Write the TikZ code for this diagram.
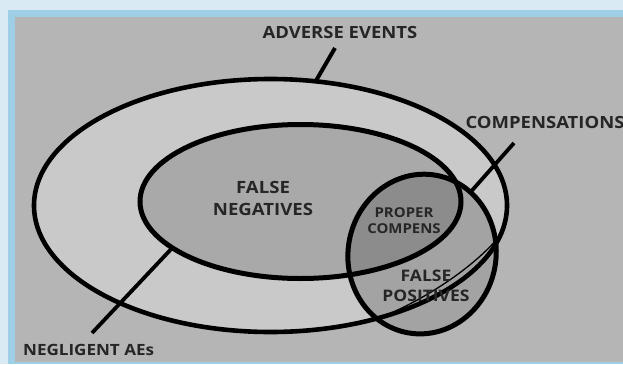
\documentclass[tikz,border=0pt]{standalone}
\usepackage{fontspec}
\setmainfont{Open Sans}[FakeStretch=1.1]
\usepackage{tikz}
\usetikzlibrary{calc}

\definecolor{paleblue}{HTML}{D9EAF4}
\definecolor{frameblue}{HTML}{9FCFE6}
\definecolor{backgray}{HTML}{B5B5B5}
\definecolor{aefill}{HTML}{C9C9C9}
\definecolor{fnfill}{HTML}{A9A9A9}
\definecolor{compfill}{HTML}{A3A3A3}
\definecolor{properfill}{HTML}{8C8C8C}
\definecolor{ink}{HTML}{262626}

\tikzset{
  setline/.style={draw=black, line width=5pt},
  pointer/.style={draw=black, line width=3.8pt},
  lbl/.style={text=ink, font=\bfseries\fontsize{16.8}{20}\selectfont, inner sep=0pt, align=center}
}

\begin{document}
\begin{tikzpicture}[x=1pt, y=1pt]
  % frame
  \fill[paleblue] (0,0) rectangle (623,-364);
  \fill[frameblue] (8,-10) rectangle (623,-364);
  \fill[backgray] (15,-17) rectangle (623,-362);
  \useasboundingbox (0,0) rectangle (623,-364);

  \coordinate(ae) at (270.5,-205.5);
  \coordinate(fn) at (300.5,-201.5);
  \coordinate(comp) at (422,-254);

  % sets
  \fill[aefill] (ae) ellipse [x radius=236.5, y radius=126.5];
  \fill[fnfill] (fn) ellipse [x radius=160.5, y radius=77];
  \fill[compfill, rotate around={-10:(comp)}] (comp) ellipse [x radius=74, y radius=80];
  \begin{scope}
    \clip (fn) ellipse [x radius=160.5, y radius=77];
    \fill[properfill, rotate around={-10:(comp)}] (comp) ellipse [x radius=74, y radius=80];
  \end{scope}
  \draw[setline, line width=4.6pt] (ae) ellipse [x radius=236.5, y radius=126.5];
  \draw[setline] (fn) ellipse [x radius=160.5, y radius=77];
  \draw[setline, rotate around={-10:(comp)}] (comp) ellipse [x radius=74, y radius=80];

  % pointers
  \coordinate(aetip) at (335,-48);
  \coordinate(aepin) at ($(ae)+(79:236.5 and 126.5)$);
  \coordinate(ngtip) at (92,-333);
  \coordinate(ngpin) at ($(fn)+(217:160.5 and 77)$);
  \coordinate(cptip) at (514,-143);
  \path[shift={(comp)}, rotate=-10] (60:74 and 80) coordinate(cppin);
  \coordinate(nga) at ($(ae)+(297.8:236.5 and 126.5)$);
  \coordinate(ngb) at ($(ae)+(346.5:236.5 and 126.5)$);
  \draw[pointer, line width=4pt] (aetip)--(aepin);
  \draw[pointer] (ngtip)--(ngpin);
  \draw[pointer] (cptip)--(cppin);
  \draw[line width=1.3pt] (nga) .. controls (431,-297) and (478,-263) .. (ngb);

  % labels
  \node[lbl] (adverse) at (340,-32.5) {ADVERSE EVENTS};
  \node[lbl] (comps) at (545,-122.5) {COMPENSATIONS};
  \node[lbl, anchor=west, font=\bfseries\fontsize{15.5}{20}\selectfont] (negligent) at (23,-350) {NEGLIGENT AEs};
  \node[lbl, font=\bfseries\fontsize{16.9}{21.5}\selectfont] (falseneg) at (263,-198.5) {FALSE\\NEGATIVES};
  \node[lbl, font=\bfseries\fontsize{13.6}{16}\selectfont] (proper) at (404,-220.5) {PROPER\\COMPENS};
  \node[lbl, font=\bfseries\fontsize{15.9}{20}\selectfont] (falsepos) at (426,-286) {FALSE\\POSITIVES};
\end{tikzpicture}
\end{document}
